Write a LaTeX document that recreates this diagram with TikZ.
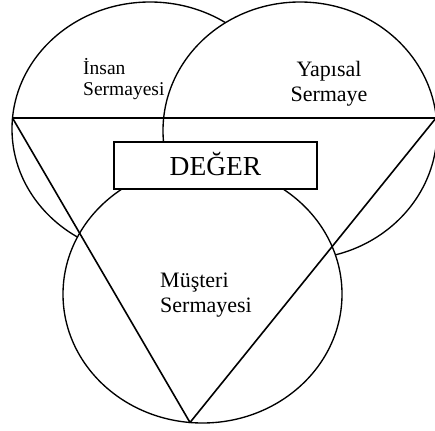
\documentclass[tikz,border=0pt]{standalone}
\usepackage{fontspec}
\setmainfont{Liberation Serif}
\begin{document}
\begin{tikzpicture}[x=1pt,y=-1pt,
  circ/.style={draw=black, line width=1.35pt, fill=white},
  edge/.style={draw=black, line width=1.6pt, line join=round},
  lab/.style={inner sep=0pt, font=\fontsize{22}{25}\selectfont},
  labsmall/.style={inner sep=0pt, font=\fontsize{19.5}{21}\selectfont}]
\useasboundingbox (0,0) rectangle (435,430);
\fill[white] (0,0) rectangle (435,430);
\coordinate (cI) at (150,129);
\coordinate (cY) at (300,130.6);
\coordinate (cM) at (202.5,294.2);
\draw[circ] (cI) ellipse [x radius=138pt, y radius=127pt];
\draw[circ] (cY) ellipse [x radius=137pt, y radius=128.6pt];
\draw[circ] (cM) ellipse [x radius=139.5pt, y radius=128.8pt];
\coordinate (tl) at (12.5,118);
\coordinate (tr) at (436,118);
\coordinate (tb) at (190,422.5);
\draw[edge, line width=2pt] (tl) -- (tr);
\draw[edge] (tl) -- (tb) -- (tr);
\node[draw=black, line width=1.9pt, fill=white, minimum width=203pt, minimum height=47pt,
      inner sep=0pt, text height=20pt, text depth=0pt,
      font=\fontsize{27.5}{30}\selectfont] (deger) at (215.5,165.5) {DEĞER};
\node[labsmall, anchor=base west] (insan1) at (83,75) {İnsan};
\node[labsmall, anchor=base west] (insan2) at (83,96) {Sermayesi};
\node[lab, anchor=base] (yap1) at (329,77) {Yapısal};
\node[lab, anchor=base] (yap2) at (329,102) {Sermaye};
\node[lab, anchor=base west] (mus1) at (160,287) {Müşteri};
\node[lab, anchor=base west] (mus2) at (160,312) {Sermayesi};
\end{tikzpicture}
\end{document}
